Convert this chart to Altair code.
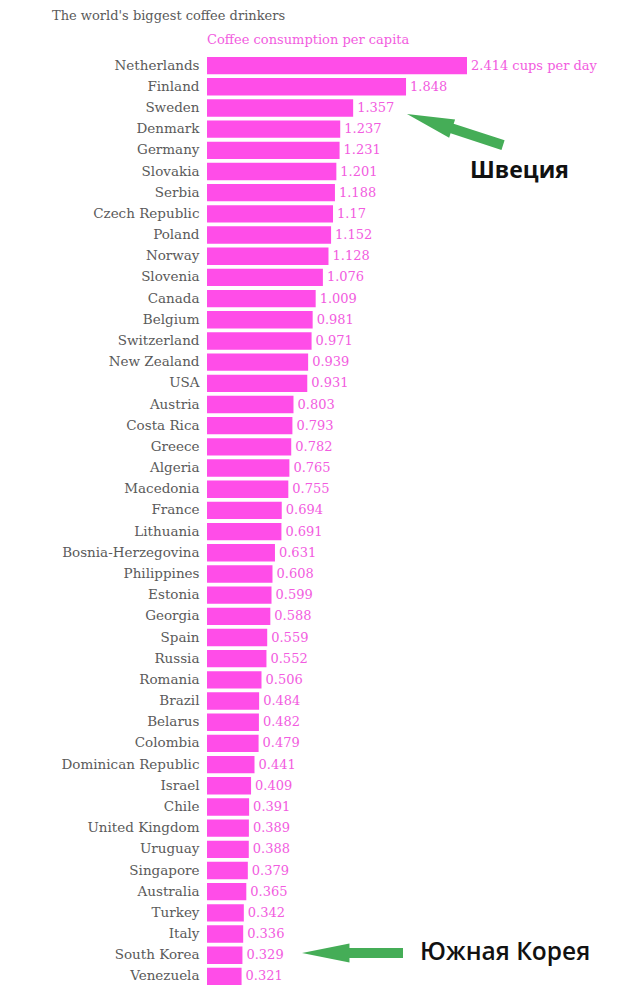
import altair as alt
import pandas as pd

countries = ["Netherlands", "Finland", "Sweden", "Denmark", "Germany", "Slovakia", "Serbia",
             "Czech Republic", "Poland", "Norway", "Slovenia", "Canada", "Belgium", "Switzerland",
             "New Zealand", "USA", "Austria", "Costa Rica", "Greece", "Algeria", "Macedonia",
             "France", "Lithuania", "Bosnia-Herzegovina", "Philippines", "Estonia", "Georgia",
             "Spain", "Russia", "Romania", "Brazil", "Belarus", "Colombia", "Dominican Republic",
             "Israel", "Chile", "United Kingdom", "Uruguay", "Singapore", "Australia", "Turkey",
             "Italy", "South Korea", "Venezuela"]
cups = [2.414, 1.848, 1.357, 1.237, 1.231, 1.201, 1.188, 1.17, 1.152, 1.128, 1.076, 1.009,
        0.981, 0.971, 0.939, 0.931, 0.803, 0.793, 0.782, 0.765, 0.755, 0.694, 0.691, 0.631,
        0.608, 0.599, 0.588, 0.559, 0.552, 0.506, 0.484, 0.482, 0.479, 0.441, 0.409, 0.391,
        0.389, 0.388, 0.379, 0.365, 0.342, 0.336, 0.329, 0.321]
unit_suffix = " cups per day"

title_text = "The world's biggest coffee drinkers"
subtitle_text = "Coffee consumption per capita"
note_sweden = "Швеция"
note_korea = "Южная Корея"

labels = [str(v) + (unit_suffix if i == 0 else "") for i, v in enumerate(cups)]
df = pd.DataFrame({"country": countries, "cups": cups, "label": labels})

BAR = "#ff4de8"
LABEL_PINK = "#f25ce0"
GRAY = "#5a5a5a"
GREEN = "#45ad57"
SERIF = "DejaVu Serif"

W = 260
H = 932

y_enc = alt.Y("country:N", sort=countries, title=None,
              scale=alt.Scale(paddingInner=0.18, paddingOuter=0.09),
              axis=alt.Axis(ticks=False, domain=False, labelFont=SERIF, labelFontSize=13.5,
                            labelColor=GRAY, labelPadding=8, grid=False))
x_enc = alt.X("cups:Q", scale=alt.Scale(domain=[0, max(cups)], nice=False), axis=None)

base = alt.Chart(df)
bars = base.mark_bar(color=BAR).encode(x=x_enc, y=y_enc)
vals = base.mark_text(align="left", baseline="middle", dx=4, font=SERIF, fontSize=13,
                      color=LABEL_PINK).encode(x=x_enc, y=y_enc, text="label:N")

ann = pd.DataFrame({"k": [0]})
arrow_path = "M -1 0 L -0.06 -0.19 L -0.06 -0.1 L 1 -0.1 L 1 0.1 L -0.06 0.1 L -0.06 0.19 Z"

def txt(text, x, y, **kw):
    return alt.Chart(ann).mark_text(text=text, **kw).encode(x=alt.value(x), y=alt.value(y))

title = txt(title_text, -155, -39, align="left", baseline="middle", font=SERIF,
            fontSize=13, color=GRAY)
subtitle = txt(subtitle_text, 0, -15, align="left", baseline="middle", font=SERIF,
               fontSize=13, color=LABEL_PINK)
t_sw = txt(note_sweden, 263, 116, align="left", baseline="middle", font="Open Sans",
           fontSize=23, fontWeight="bold", color="#111111")
t_ko = txt(note_korea, 213, 898, align="left", baseline="middle", font="Open Sans",
           fontSize=24.5, fontWeight=600, color="#111111")

arrow1 = alt.Chart(ann).mark_point(shape=arrow_path, filled=True, opacity=1, color=GREEN,
                                   size=10200, angle=18, strokeWidth=0).encode(
    x=alt.value(248), y=alt.value(74.5))
arrow2 = alt.Chart(ann).mark_point(shape=arrow_path, filled=True, opacity=1, color=GREEN,
                                   size=10200, strokeWidth=0).encode(
    x=alt.value(145.5), y=alt.value(898))

chart = alt.layer(bars, vals, title, subtitle, arrow1, arrow2, t_sw, t_ko).properties(
    width=W, height=H,
    autosize=alt.AutoSizeParams(type="none"),
    padding={"left": 199, "top": 47, "right": 145, "bottom": 0},
).configure_view(stroke=None)

chart.save("out.html", embed_options={"renderer": "svg", "actions": False})
